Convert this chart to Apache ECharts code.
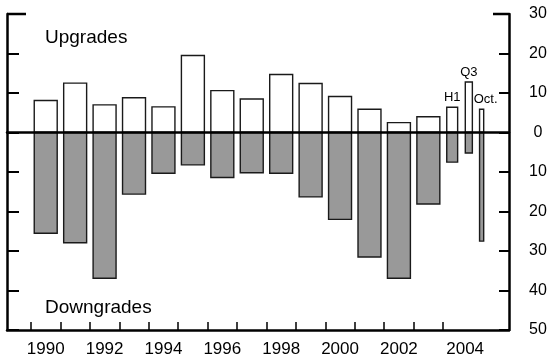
<!DOCTYPE html>
<html><head><meta charset="utf-8">
<script src="https://cdn.jsdelivr.net/npm/echarts@6/dist/echarts.min.js"></script>
<style>html,body{margin:0;padding:0;background:#fff}#c{width:550px;height:362px}</style>
</head><body><div id="c"></div>
<script>
// ---- data ----
const periods = ['1990','1991','1992','1993','1994','1995','1996','1997','1998','1999','2000','2001','2002','2003','H1','Q3','Oct.'];
const upgrades = [8.1,12.5,7.0,8.8,6.5,19.5,10.6,8.5,14.7,12.4,9.1,5.9,2.5,4.0,6.4,12.8,5.9];
const downgrades = [25.5,27.9,36.9,15.6,10.3,8.2,11.4,10.2,10.3,16.3,22.0,31.5,36.9,18.1,7.5,5.2,27.5];
const xTickLabels = ['1990','1992','1994','1996','1998','2000','2002','2004'];

// ---- layout (axis units: one year = 1, year boundaries at integers) ----
const FONT = 'Liberation Sans, Arial, Helvetica, sans-serif';
const yearCount = 14;
const subLayout = {'H1': {pos: 14.31, w: 0.37, dx: 0}, 'Q3': {pos: 14.875, w: 0.24, dx: 0}, 'Oct.': {pos: 15.31, w: 0.14, dx: 4}};
const yearBarWidth = 0.78;
const xMin = -0.8155, xMax = 16.24, yMin = -50, yMax = 30;
function posOf(i){ return i < yearCount ? i + 0.5 : subLayout[periods[i]].pos; }
function widthOf(i){ return i < yearCount ? yearBarWidth : subLayout[periods[i]].w; }
const labelPos = xTickLabels.map(l => { const i = periods.indexOf(l); return i >= 0 ? i + 0.5 : 14.75; });
const labelMap = {};
labelPos.forEach((p, k) => { labelMap[p.toFixed(3)] = xTickLabels[k]; });
const boundaries = [];
for (let k = 0; k <= yearCount; k++) boundaries.push(k);

const seriesData = periods.map((p, i) => [posOf(i), upgrades[i], -downgrades[i], i]);

const chart = echarts.init(document.getElementById('c'), null, {renderer: 'canvas'});
const axisLine = {show: true, onZero: false, lineStyle: {color: '#000', width: 2.5}};
chart.setOption({
  animation: false,
  backgroundColor: '#fff',
  grid: {left: 7, right: 41, top: 14, bottom: 32, containLabel: false},
  xAxis: [
    {type: 'value', min: xMin, max: xMax, position: 'bottom',
     axisLine: {show: true, onZero: false, lineStyle: {color: '#000', width: 2.5}},
     axisTick: {show: true, inside: true, length: 8, customValues: boundaries, lineStyle: {color: '#000', width: 1.5}},
     axisLabel: {show: true, customValues: labelPos, margin: 11, color: '#000', fontSize: 17, fontFamily: FONT,
       formatter: v => labelMap[Number(v).toFixed(3)] || ''},
     splitLine: {show: false}},
    {type: 'value', min: xMin, max: xMax, position: 'top', z: 5,
     axisLine: {show: true, onZero: true, lineStyle: {color: '#000', width: 2.5}},
     axisTick: {show: false}, axisLabel: {show: false}, splitLine: {show: false}}
  ],
  yAxis: [
    {type: 'value', min: yMin, max: yMax, interval: 10, position: 'left',
     axisLine: axisLine, axisTick: {show: true, inside: true, length: 12, lineStyle: {color: '#000', width: 2}},
     axisLabel: {show: false}, splitLine: {show: false}},
    {type: 'value', min: yMin, max: yMax, interval: 10, position: 'right',
     axisLine: axisLine, axisTick: {show: true, inside: true, length: 10, lineStyle: {color: '#000', width: 2}},
     axisLabel: {show: true, align: 'center', margin: 29, color: '#000', fontSize: 16, fontFamily: FONT,
       formatter: v => String(Math.abs(v))},
     splitLine: {show: false}}
  ],
  series: [{
    type: 'custom',
    xAxisIndex: 0, yAxisIndex: 0,
    encode: {x: 0, y: [1, 2]},
    data: seriesData,
    renderItem: function (params, api) {
      const x = api.value(0), up = api.value(1), dn = api.value(2), i = api.value(3);
      const w = widthOf(i);
      const z0 = api.coord([x - w / 2, 0]);
      const pu = api.coord([x + w / 2, up]);
      const pd = api.coord([x + w / 2, dn]);
      const children = [
        {type: 'rect', shape: {x: z0[0], y: pu[1], width: pu[0] - z0[0], height: z0[1] - pu[1]},
         style: {fill: '#ffffff', stroke: '#1a1a1a', lineWidth: 1.4}},
        {type: 'rect', shape: {x: z0[0], y: z0[1], width: pd[0] - z0[0], height: pd[1] - z0[1]},
         style: {fill: '#999999', stroke: '#1a1a1a', lineWidth: 1.4}}
      ];
      if (i >= yearCount) {
        const lay = subLayout[periods[i]];
        children.push({type: 'text', x: (z0[0] + pu[0]) / 2 + lay.dx, y: pu[1] - 3,
          style: {text: periods[i], fill: '#000', font: '13px ' + FONT, textAlign: 'center', textVerticalAlign: 'bottom'}});
      }
      return {type: 'group', children: children};
    }
  }, {
    // longer top tick marks on both frame sides at the axis maximum
    type: 'custom', xAxisIndex: 0, yAxisIndex: 0, silent: true, z: 6,
    data: [[xMin, yMax]],
    renderItem: function (params, api) {
      const l = api.coord([xMin, yMax]), r = api.coord([xMax, yMax]);
      return {type: 'group', children: [
        {type: 'line', shape: {x1: l[0], y1: l[1], x2: l[0] + 19, y2: l[1]}, style: {stroke: '#000', lineWidth: 2.5}},
        {type: 'line', shape: {x1: r[0] - 16, y1: r[1], x2: r[0], y2: r[1]}, style: {stroke: '#000', lineWidth: 2.5}}
      ]};
    }
  }],
  graphic: [
    {type: 'text', left: 45, top: 28, style: {text: 'Upgrades', fill: '#000', font: '19px ' + FONT}},
    {type: 'text', left: 45, top: 298, style: {text: 'Downgrades', fill: '#000', font: '19px ' + FONT}}
  ]
});
</script></body></html>
